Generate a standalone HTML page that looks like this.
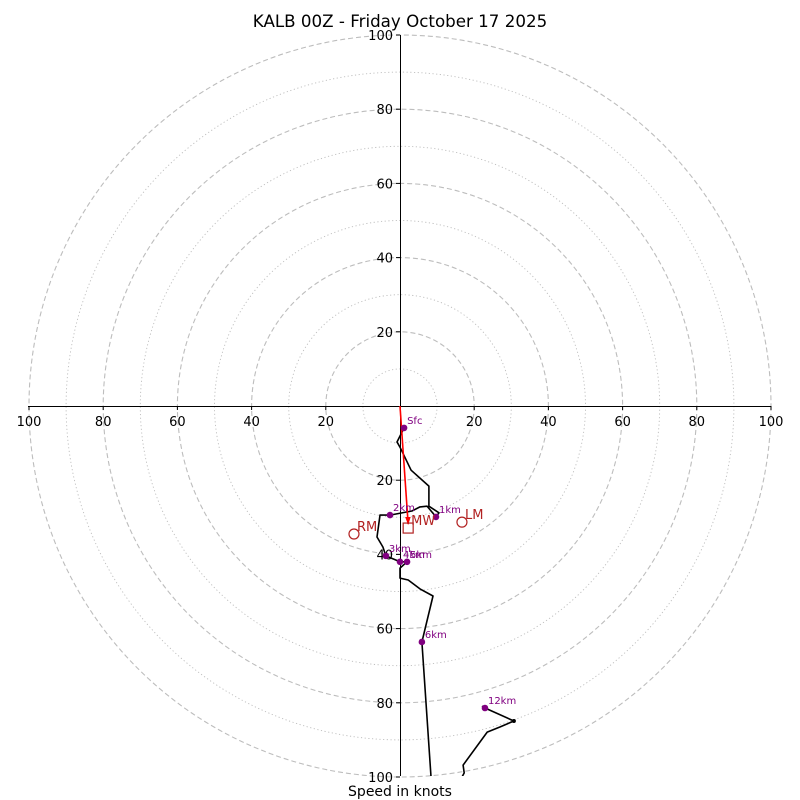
<!DOCTYPE html>
<html><head><meta charset="utf-8"><style>
html,body{margin:0;padding:0;background:#fff;}
svg{display:block;font-family:"DejaVu Sans","Liberation Sans",sans-serif;}
</style></head><body>
<svg id="chart" width="800" height="800" viewBox="0 0 800 800">
<defs><clipPath id="clip"><rect x="28" y="35" width="743" height="741"/></clipPath></defs>
<text x="400" y="27" text-anchor="middle" font-size="16.7">KALB 00Z - Friday October 17 2025</text>
<g id="rings"></g>
<g id="axes"></g>
<g id="series" clip-path="url(#clip)"></g>
<text x="400" y="796" text-anchor="middle" font-size="14">Speed in knots</text>
</svg>
<script>
const ringSpeeds = [10,20,30,40,50,60,70,80,90,100];
const tickLabels = [20,40,60,80,100];
const traceU = [1.1,-0.8,0,3.0,7.8,7.8,10.5,9.7,7.3,5.4,3.2,-2.7,-5.4,-6.2,-4.6,-3.8,0,1.9,0,0,2.2,5.4,8.9,5.9,8.6,17.8,16.7,17.3,17.0,23.5,27.0,30.7,22.9,22.1];
const traceV = [-5.9,-9.7,-11.1,-17.3,-21.6,-27.0,-28.8,-29.9,-27.0,-27.2,-28.3,-29.4,-29.4,-35.3,-38.0,-40.4,-42.0,-42.0,-43.7,-46.4,-46.9,-49.3,-51.2,-63.6,-103.5,-103.5,-100,-98.9,-96.8,-87.9,-86.5,-84.9,-81.4,-80.9];
const levelNames = ["Sfc","1km","2km","3km","4km","5km","6km","12km"];
const levelU = [1.1,9.7,-2.7,-3.8,0,1.9,5.9,22.9];
const levelV = [-5.9,-29.9,-29.4,-40.4,-42.0,-42.0,-63.6,-81.4];
const motionNames = ["RM","LM","MW"];
const motionU = [-12.4,16.7,2.2];
const motionV = [-34.5,-31.3,-32.9];

const cx=400, cy=406, s=3.71;
const X=u=>cx+u*s, Y=v=>cy-v*s;
const NS="http://www.w3.org/2000/svg";
function mk(tag,attrs,parent,txt){const e=document.createElementNS(NS,tag);for(const k in attrs)e.setAttribute(k,attrs[k]);if(txt!==undefined)e.textContent=txt;parent.appendChild(e);return e;}
const rings=document.getElementById('rings'), axes=document.getElementById('axes'), ser=document.getElementById('series');
ringSpeeds.forEach(r=>{
  const c=mk('circle',{cx:cx,cy:cy,r:r*s,fill:'none',stroke:'#bdbdbd','stroke-width':r%20===0?1.1:0.9,'stroke-dasharray':r%20===0?'5,3':'1.2,2.5'},rings);
  
  
});
let l=mk('line',{x1:28,y1:cy+0.5,x2:771,y2:cy+0.5,stroke:'#000','stroke-width':1},axes);


l=mk('line',{x1:cx+0.5,y1:35,x2:cx+0.5,y2:776,stroke:'#000','stroke-width':1},axes);


tickLabels.forEach(t=>{
  [-1,1].forEach(sg=>{
    const x=X(sg*t);
    mk('line',{x1:x,y1:cy,x2:x,y2:cy+4,stroke:'#000'},axes);
    const tx=mk('text',{x:x,y:cy+20,'text-anchor':'middle','font-size':13},axes,String(t));
    
    
    const y=Y(sg*t);
    mk('line',{x1:cx-4,y1:y,x2:cx,y2:y,stroke:'#000'},axes);
    const ty=mk('text',{x:cx-7,y:y+5,'text-anchor':'end','font-size':13},axes,String(t));
    
    
  });
});
const pts=traceU.map((u,i)=>X(u).toFixed(1)+','+Y(traceV[i]).toFixed(1)).join(' ');
const pl=mk('polyline',{points:pts,fill:'none',stroke:'#000','stroke-width':1.6,'stroke-linejoin':'round'},ser);


const n=traceU.length-1;
mk('circle',{cx:X(traceU[n-2]),cy:Y(traceV[n-2]),r:2,fill:'#000'},ser);
const ar=mk('line',{x1:X(0),y1:Y(0),x2:X(motionU[2]),y2:Y(motionV[2])-4,stroke:'red','stroke-width':1.6},ser);


const ax=X(motionU[2]), ay=Y(motionV[2])-3;
mk('polygon',{points:`${ax},${ay} ${ax-3},${ay-8} ${ax+2.5},${ay-8}`,fill:'red'},ser);
levelNames.forEach((nm,i)=>{
  const c=mk('circle',{cx:X(levelU[i]),cy:Y(levelV[i]),r:3.3,fill:'purple'},ser);
  
  
  const t=mk('text',{x:X(levelU[i])+3,y:Y(levelV[i])-4,'font-size':10,fill:'purple'},ser,nm);
  
  
});
motionNames.forEach((nm,i)=>{
  const x=X(motionU[i]), y=Y(motionV[i]);
  let m;
  if(nm==='MW') m=mk('rect',{x:x-5,y:y-5,width:10,height:10,fill:'none',stroke:'#b22222','stroke-width':1.2},ser);
  else m=mk('circle',{cx:x,cy:y,r:5,fill:'none',stroke:'#b22222','stroke-width':1.2},ser);
  
  
  const t=mk('text',{x:x+3,y:y-3,'font-size':13,fill:'#b22222'},ser,nm);
  
  
});
</script>
</body></html>
